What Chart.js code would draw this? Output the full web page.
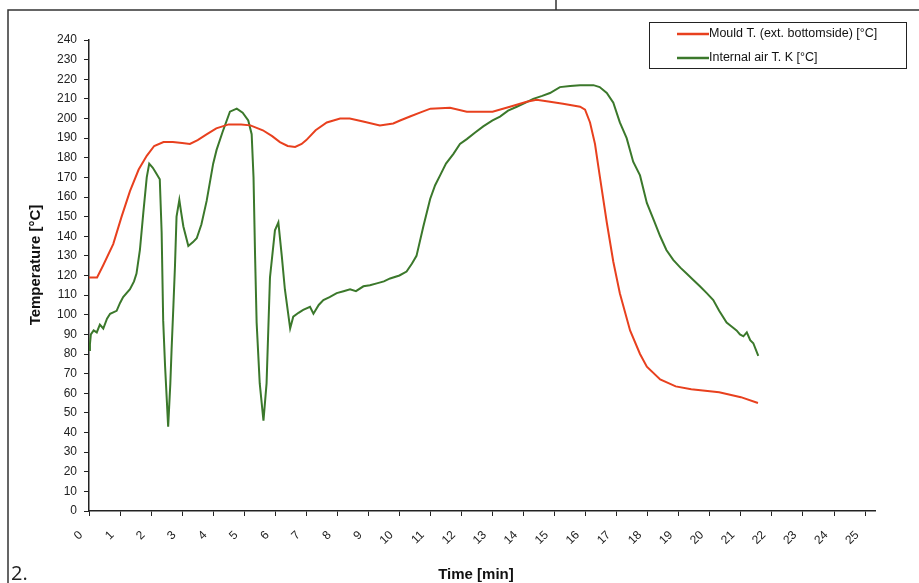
<!DOCTYPE html>
<html>
<head>
<meta charset="utf-8">
<script src="https://cdn.jsdelivr.net/npm/chart.js@4.4.1/dist/chart.umd.min.js"></script>
<style>
  html, body { margin: 0; padding: 0; background: #fff; }
  canvas { display: block; }
</style>
</head>
<body>
<canvas id="chart" width="919" height="583"></canvas>
<script>
// series (time in min, temperature in °C)
var mouldLabel = 'Mould T. (ext. bottomside) [°C]';
var airLabel = 'Internal air T. K [°C]';

var mouldTime = [0, 0.26, 0.45, 0.78, 1.05, 1.32, 1.6, 1.86, 2.1, 2.4, 2.7, 3.0, 3.25, 3.5, 3.8, 4.1, 4.5, 4.9,
    5.2, 5.6, 5.9, 6.15, 6.4, 6.64, 6.85, 7.0, 7.3, 7.66, 8.09, 8.4, 8.83, 9.37, 9.8, 10.02, 10.34, 10.66, 11.0,
    11.63, 12.17, 13.0, 13.56, 14.1, 14.42, 14.85, 15.27, 15.82, 15.98, 16.14, 16.3, 16.46, 16.68, 16.89, 17.1,
    17.43, 17.75, 17.97, 18.4, 18.9, 19.4, 20.3, 21.0, 21.55];
var mouldTemp = [119, 119, 125, 136, 150, 163, 174, 181, 186, 188, 188, 187.5, 187, 189, 192, 195, 197, 197,
    196.5, 194, 191, 188, 186, 185.5, 187, 189, 194, 198, 200, 200, 198.5, 196.5, 197.5, 199, 201, 203, 205,
    205.5, 203.5, 203.5, 206, 208.5, 209.5, 208.5, 207.5, 206, 204.5, 198, 187, 170, 147, 127, 111,
    92, 80, 73.5, 67, 63.5, 62, 60.5, 58, 55];

var airTime = [0, 0.03, 0.06, 0.15, 0.25, 0.35, 0.46, 0.58, 0.68, 0.89, 1.0, 1.1, 1.32, 1.45, 1.53, 1.64, 1.75,
    1.86, 1.94, 2.05, 2.13, 2.28, 2.34, 2.39, 2.45, 2.55, 2.62, 2.66, 2.72, 2.77, 2.82, 2.91, 2.97, 3.04, 3.2,
    3.35, 3.47, 3.62, 3.79, 4.0, 4.11, 4.3, 4.54, 4.76, 4.95, 5.13, 5.24, 5.3, 5.35, 5.4, 5.5, 5.62, 5.72, 5.83,
    5.99, 6.1, 6.21, 6.31, 6.48, 6.58, 6.75, 6.9, 7.12, 7.23, 7.4, 7.55, 7.75, 7.98, 8.2, 8.41, 8.6, 8.84, 9.05,
    9.27, 9.5, 9.7, 10.0, 10.23, 10.4, 10.55, 10.77, 10.99, 11.15, 11.31, 11.5, 11.74, 11.95, 12.17, 12.45,
    12.7, 13.0, 13.24, 13.5, 13.78, 14.05, 14.31, 14.6, 14.85, 15.17, 15.5, 15.82, 16.25, 16.45, 16.68, 16.89,
    17.1, 17.32, 17.53, 17.75, 17.97, 18.2, 18.4, 18.6, 18.82, 19.05, 19.25, 19.45, 19.68, 19.9, 20.11, 20.3,
    20.54, 20.7, 20.86, 20.97, 21.08, 21.19, 21.3, 21.4, 21.56];
var airTemp = [82, 85, 90, 92, 91, 95, 93, 98, 100.5, 102, 106, 109, 113, 117, 121, 133, 152,
    170, 177, 175, 173, 169, 142, 97, 74, 43, 65, 82, 105, 125, 150, 158.5, 152, 145, 135,
    137, 139, 146, 158, 177, 184, 193, 203.5, 205, 203, 199, 192, 170, 130, 96, 65, 46, 65, 119,
    143, 147, 130, 113, 93, 99, 101, 102.5, 104, 100.5, 105, 107.5, 109, 111, 112, 113, 112, 114.5, 115,
    116, 117, 118.5, 120, 122, 126, 130, 145, 159, 166, 171, 177, 182, 187, 189.5, 193,
    196, 199, 201, 204, 206, 208, 210, 211.5, 213, 216, 216.5, 217, 217, 216, 213, 208,
    198, 190, 178, 171, 157, 148, 140, 133, 128, 124, 121, 118, 114.5, 111, 107.5, 102,
    96, 94, 92, 90, 89, 91, 87, 85.5, 79];

var xTicks = [0, 1, 2, 3, 4, 5, 6, 7, 8, 9, 10, 11, 12, 13, 14, 15, 16, 17, 18, 19, 20, 21, 22, 23, 24, 25];

var toPoints = function(xs, ys) {
    return xs.map(function(x, i) {
        return { x: x, y: ys[i] };
    });
};

var axisColor = '#222';
var tickFont = { family: 'Liberation Sans, Arial, sans-serif', size: 12 };

// frame, legend box, axis titles and the "2." caption
var decorations = {
    id: 'decorations',
    afterDraw: function(chart) {
        var ctx = chart.ctx;
        ctx.save();

        ctx.strokeStyle = '#333';
        ctx.lineWidth = 1.5;
        ctx.beginPath();
        ctx.moveTo(8, 583);
        ctx.lineTo(8, 10);
        ctx.lineTo(919, 10);
        ctx.moveTo(556, 0);
        ctx.lineTo(556, 10);
        ctx.stroke();

        // legend
        ctx.lineWidth = 1;
        ctx.strokeStyle = '#222';
        ctx.strokeRect(649.5, 22.5, 257, 46);
        ctx.font = '12.5px Liberation Sans, Arial, sans-serif';
        ctx.textBaseline = 'middle';
        ctx.fillStyle = '#111';
        var rows = [34, 58];
        chart.data.datasets.forEach(function(ds, i) {
            ctx.strokeStyle = ds.borderColor;
            ctx.lineWidth = 2.5;
            ctx.beginPath();
            ctx.moveTo(677, rows[i]);
            ctx.lineTo(709, rows[i]);
            ctx.stroke();
            ctx.fillText(ds.label, 709, rows[i]);
        });

        // axis titles
        ctx.fillStyle = '#111';
        ctx.font = 'bold 15px Liberation Sans, Arial, sans-serif';
        ctx.textAlign = 'center';
        ctx.fillText('Time [min]', 476, 575);
        ctx.save();
        ctx.translate(36, 265);
        ctx.rotate(-Math.PI / 2);
        ctx.fillText('Temperature [°C]', 0, 0);
        ctx.restore();

        ctx.textAlign = 'left';
        ctx.textBaseline = 'alphabetic';
        ctx.font = '20px Open Sans, Noto Sans, sans-serif';
        ctx.fillStyle = '#222';
        ctx.fillText('2.', 11, 580);

        ctx.restore();
    }
};

var config = {
    type: 'line',
    data: {
        datasets: [{
            label: mouldLabel,
            data: toPoints(mouldTime, mouldTemp),
            borderColor: 'rgb(232, 64, 30)',
            borderWidth: 2,
            pointRadius: 0,
            tension: 0,
            fill: false
        }, {
            label: airLabel,
            data: toPoints(airTime, airTemp),
            borderColor: 'rgb(59, 120, 43)',
            borderWidth: 2,
            pointRadius: 0,
            tension: 0,
            fill: false
        }]
    },
    options: {
        responsive: false,
        animation: false,
        devicePixelRatio: 1,
        layout: {
            padding: { top: 40, right: 44, left: 0, bottom: 0 }
        },
        plugins: {
            legend: { display: false },
            tooltip: { enabled: false }
        },
        scales: {
            x: {
                type: 'linear',
                min: 0,
                max: 25.32,
                afterBuildTicks: function(scale) {
                    scale.ticks = xTicks.map(function(v) { return { value: v }; });
                },
                afterFit: function(scale) {
                    scale.height = 72;
                },
                ticks: {
                    autoSkip: false,
                    minRotation: 45,
                    maxRotation: 45,
                    padding: 12,
                    labelOffset: -8,
                    color: '#222',
                    font: tickFont
                },
                grid: {
                    drawOnChartArea: false,
                    drawTicks: true,
                    tickLength: 5,
                    color: axisColor
                },
                border: { color: axisColor, width: 1.5 }
            },
            y: {
                min: 0,
                max: 240,
                afterFit: function(scale) {
                    scale.width = 89;
                },
                ticks: {
                    stepSize: 10,
                    padding: 7,
                    color: '#222',
                    font: tickFont
                },
                grid: {
                    drawOnChartArea: false,
                    drawTicks: true,
                    tickLength: 5,
                    color: axisColor
                },
                border: { color: axisColor, width: 1.5 }
            }
        }
    },
    plugins: [decorations]
};

new Chart(document.getElementById('chart').getContext('2d'), config);
</script>
</body>
</html>
